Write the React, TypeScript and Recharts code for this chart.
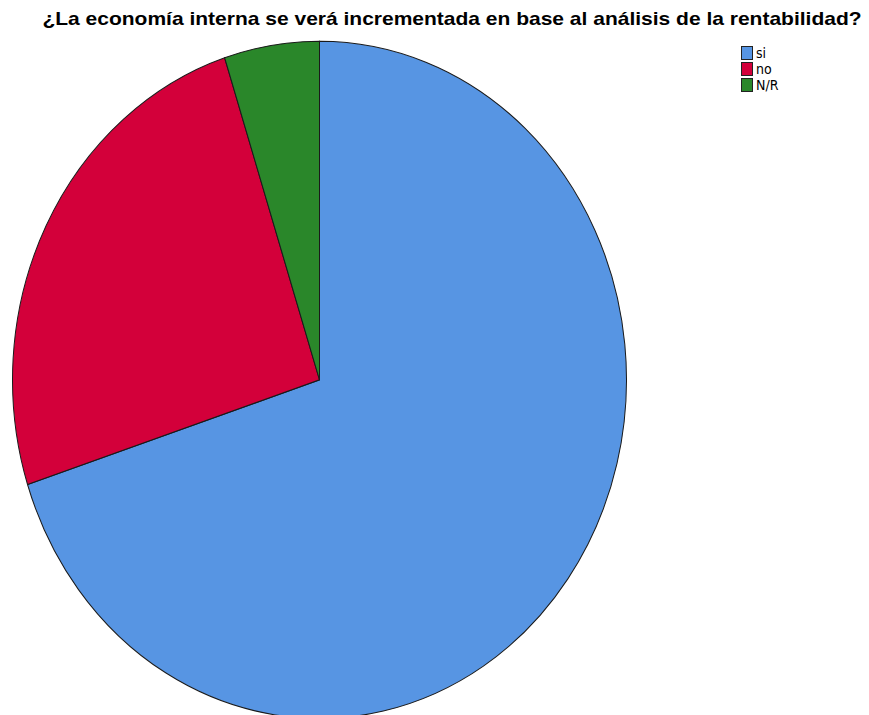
import { PieChart, Pie, Cell } from "recharts";

// Answers and their shares (%)
const categories = ["si", "no", "N/R"];
const values = [70, 25, 5];
const COLORS = ["#5795E3", "#D3003A", "#2A872A"];

const title =
  "¿La economía interna se verá incrementada en base al análisis de la rentabilidad?";

const data = categories.map((name, i) => ({ name, value: values[i] }));

const App = () => {
  return (
    <div
      style={{
        position: "absolute",
        left: 0,
        top: 0,
        width: 869,
        height: 715,
        overflow: "hidden",
        background: "#fff",
        fontFamily: "'Liberation Sans', Arial, sans-serif",
      }}
    >
      <div
        style={{
          position: "absolute",
          left: 452,
          top: 8,
          transform: "translateX(-50%) scaleX(1.105)",
          whiteSpace: "nowrap",
          fontWeight: "bold",
          fontSize: 19,
          color: "#000",
        }}
      >
        {title}
      </div>

      {/* SPSS draws the pie slightly stretched vertically */}
      <div
        style={{
          position: "absolute",
          left: 11,
          top: 39,
          transform: "scaleY(1.103)",
          transformOrigin: "top left",
        }}
      >
        <PieChart
          width={620}
          height={620}
          margin={{ top: 0, right: 0, bottom: 0, left: 0 }}
        >
          <Pie
            data={data}
            dataKey="value"
            nameKey="name"
            cx={308.5}
            cy={309}
            outerRadius={307}
            startAngle={90}
            endAngle={-270}
            stroke="#1a1a1a"
            strokeWidth={1}
            isAnimationActive={false}
          >
            {data.map((entry, index) => (
              <Cell key={`cell-${index}`} fill={COLORS[index % COLORS.length]} />
            ))}
          </Pie>
        </PieChart>
      </div>

      <div style={{ position: "absolute", left: 741, top: 45 }}>
        {data.map((entry, index) => (
          <div
            key={entry.name}
            style={{ display: "flex", alignItems: "center", height: 16 }}
          >
            <div
              style={{
                width: 10,
                height: 12,
                background: COLORS[index],
                border: "1px solid #222",
                marginRight: 3,
              }}
            />
            <span
              style={{
                fontFamily: "'Liberation Sans Narrow', 'DejaVu Sans Condensed', Arial, sans-serif",
                fontSize: 14,
                color: "#000",
              }}
            >
              {entry.name}
            </span>
          </div>
        ))}
      </div>
    </div>
  );
};

export default App;
